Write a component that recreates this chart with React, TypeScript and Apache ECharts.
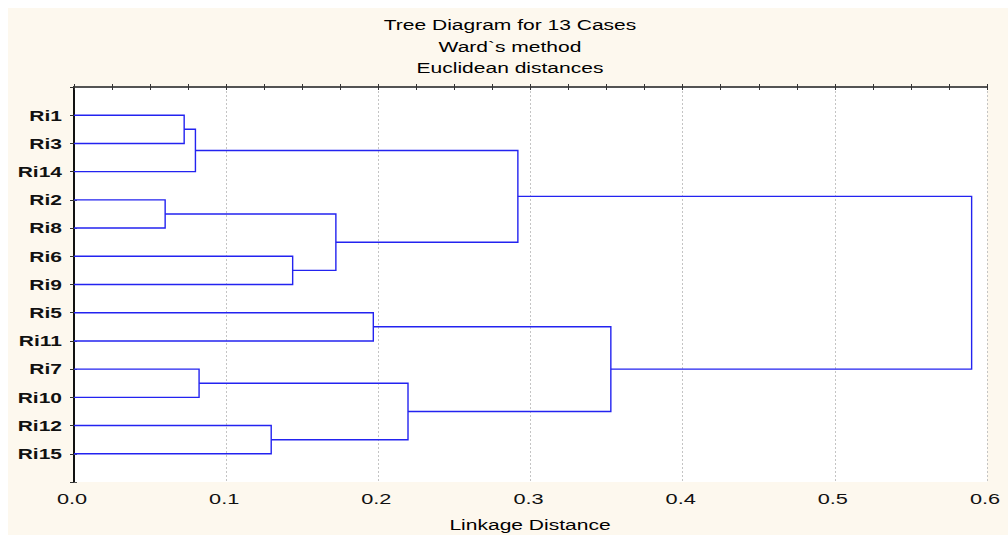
import React, { useEffect, useRef } from "react";
import * as echarts from "echarts";

// Leaf labels, top to bottom
const caseLabels = ["Ri1", "Ri3", "Ri14", "Ri2", "Ri8", "Ri6", "Ri9", "Ri5", "Ri11", "Ri7", "Ri10", "Ri12", "Ri15"];
// Linkage: merge i creates node (13 + i); indices < 13 are leaves
const mergeLeft = [0, 13, 3, 5, 15, 14, 7, 9, 11, 20, 19, 18];
const mergeRight = [1, 2, 4, 6, 16, 17, 8, 10, 12, 21, 22, 23];
const mergeHeight = [0.0724, 0.0798, 0.0599, 0.1437, 0.1721, 0.2917, 0.1967, 0.0822, 0.1296, 0.2195, 0.3528, 0.5899];
// X axis ticks
const xTickValues = [0, 0.1, 0.2, 0.3, 0.4, 0.5, 0.6];
const xTickLabels = ["0.0", "0.1", "0.2", "0.3", "0.4", "0.5", "0.6"];
const titleLines = ["Tree Diagram for 13 Cases", "Ward`s method", "Euclidean distances"];
const xAxisTitle = "Linkage Distance";

const FONT = "'Liberation Sans', Arial, sans-serif";
const SX = 1.45;

export default function App() {
  const ref = useRef<HTMLDivElement>(null);
  useEffect(() => {
    document.body.style.margin = "0";
    const chart = echarts.init(ref.current!, null, { renderer: "svg" });
    const n = caseLabels.length;
    const pos: number[] = caseLabels.map((_, i) => i + 1);
    const hgt: number[] = caseLabels.map(() => 0);
    const links: number[][] = [];
    mergeHeight.forEach((h, i) => {
      const a = mergeLeft[i];
      const b = mergeRight[i];
      links.push([hgt[a], pos[a], h, pos[b], hgt[b]]);
      pos[n + i] = (pos[a] + pos[b]) / 2;
      hgt[n + i] = h;
    });

    const axisLineStyle = { color: "#1a1a1a", width: 1.5 };
    chart.setOption({
      animation: false,
      backgroundColor: "#fdf8ee",
      grid: { left: 66, right: 21, top: 79, bottom: 53, show: true, backgroundColor: "#ffffff", borderWidth: 0 },
      xAxis: [
        {
          type: "value", position: "bottom", min: 0, max: 0.6, interval: 0.1,
          axisLine: { show: true, lineStyle: axisLineStyle },
          axisTick: { show: true, inside: true, length: 3, lineStyle: { color: "#333" } },
          minorTick: { show: true, splitNumber: 4, length: 3, lineStyle: { color: "#333" } },
          axisLabel: { show: false },
          splitLine: { show: true, lineStyle: { color: "#c4c4c4", type: [2, 2], width: 1 } },
        },
        {
          type: "value", position: "top", min: 0, max: 0.6, interval: 0.1,
          axisLine: { show: true, lineStyle: { color: "#555", width: 1.5 } },
          axisTick: { show: true, inside: true, length: 3, lineStyle: { color: "#333" } },
          minorTick: { show: true, splitNumber: 4, length: 3, lineStyle: { color: "#333" } },
          axisLabel: { show: false },
          splitLine: { show: false },
        },
      ],
      yAxis: [
        {
          type: "value", position: "left", min: 0, max: 14, interval: 1, inverse: true,
          axisLine: { show: true, lineStyle: axisLineStyle },
          axisTick: { show: true, inside: true, length: 3, lineStyle: { color: "#555" } },
          axisLabel: { show: false },
          splitLine: { show: false },
        },
        {
          type: "value", position: "right", min: 0, max: 14, interval: 1, inverse: true,
          axisLine: { show: true, lineStyle: { color: "#111", width: 2 } },
          axisTick: { show: true, inside: true, length: 4, lineStyle: { color: "#333" } },
          axisLabel: { show: false },
          splitLine: { show: false },
        },
      ],
      graphic: [
        ...titleLines.map((t, i) => ({
          type: "text", x: 502, y: [17, 39, 60][i], scaleX: SX,
          style: {
            text: t, fill: "#000", fontSize: 14.5, fontFamily: FONT,
            align: "center", verticalAlign: "middle", textAlign: "center", textVerticalAlign: "middle",
          },
        })),
        {
          type: "text", x: 522, y: 517, scaleX: SX,
          style: {
            text: xAxisTitle, fill: "#000", fontSize: 14.5, fontFamily: FONT,
            align: "center", verticalAlign: "middle", textAlign: "center", textVerticalAlign: "middle",
          },
        },
      ],
      series: [
        {
          type: "custom", coordinateSystem: "cartesian2d", xAxisIndex: 0, yAxisIndex: 0, clip: false,
          encode: { x: [0, 2, 4], y: [1, 3] },
          data: links,
          renderItem: (params: any, api: any) => {
            const p0 = api.coord([api.value(0), api.value(1)]);
            const p1 = api.coord([api.value(2), api.value(1)]);
            const p2 = api.coord([api.value(2), api.value(3)]);
            const p3 = api.coord([api.value(4), api.value(3)]);
            return {
              type: "polyline",
              shape: { points: [p0, p1, p2, p3] },
              style: { stroke: "#2323f0", lineWidth: 1.4, fill: "none" },
            };
          },
          z: 5,
        },
        {
          type: "custom", coordinateSystem: "cartesian2d", xAxisIndex: 0, yAxisIndex: 0, clip: false,
          data: caseLabels.map((_, i) => [0, i + 1]),
          renderItem: (params: any, api: any) => {
            const p = api.coord([api.value(0), api.value(1)]);
            return {
              type: "text", x: p[0] - 12, y: p[1], scaleX: 1.4,
              style: {
                text: caseLabels[params.dataIndex], fill: "#111", fontSize: 15, fontWeight: "bold", fontFamily: FONT,
                align: "right", verticalAlign: "middle",
              },
            };
          },
        },
        {
          type: "custom", coordinateSystem: "cartesian2d", xAxisIndex: 0, yAxisIndex: 0, clip: false,
          data: xTickValues.map((v) => [v, 14]),
          renderItem: (params: any, api: any) => {
            const p = api.coord([api.value(0), api.value(1)]);
            return {
              type: "text", x: p[0] - 2, y: p[1] + 17, scaleX: SX,
              style: {
                text: xTickLabels[params.dataIndex], fill: "#111", fontSize: 15, fontFamily: FONT,
                align: "center", verticalAlign: "middle",
              },
            };
          },
        },
      ],
    });
    return () => chart.dispose();
  }, []);
  return (
    <div style={{ position: "absolute", left: 8, top: 8, width: 1000, height: 527 }}>
      <div ref={ref} style={{ width: 1000, height: 527 }} />
    </div>
  );
}
